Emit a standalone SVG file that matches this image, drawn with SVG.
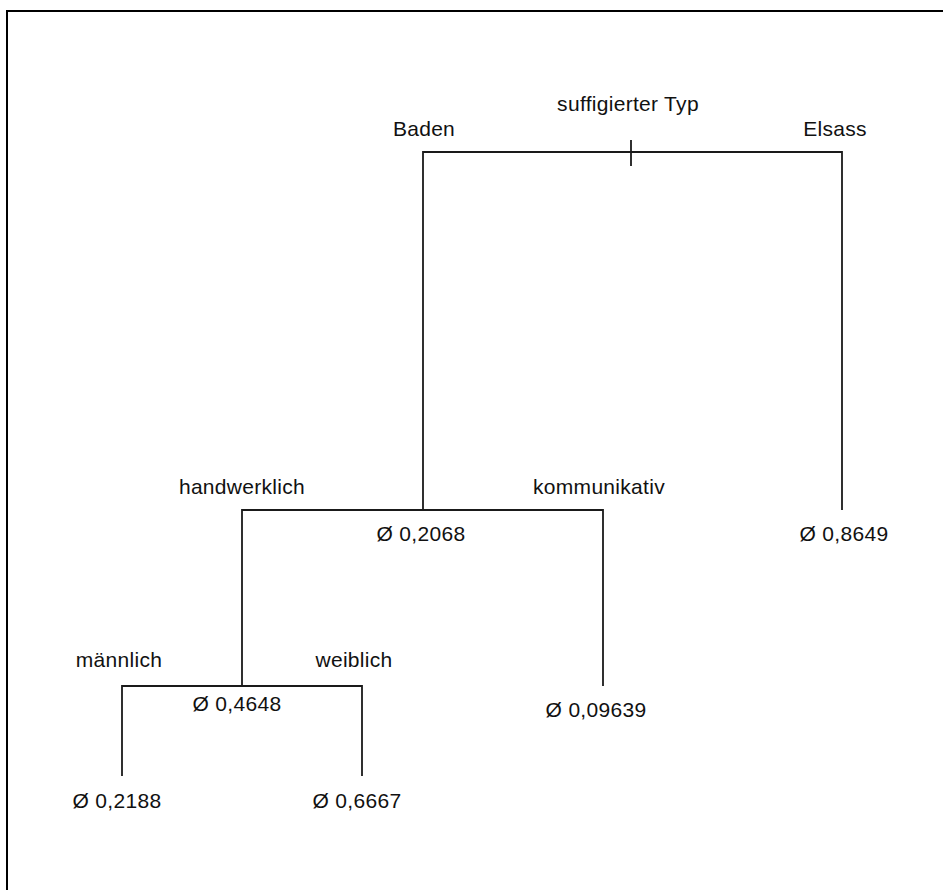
<svg xmlns="http://www.w3.org/2000/svg" width="943" height="890" viewBox="0 0 943 890">
<style>
text{font-family:"Liberation Sans",Arial,sans-serif;font-size:21px;letter-spacing:0.3px;fill:#111;text-anchor:middle}
.e{stroke:#1a1a1a;stroke-width:1.8;fill:none}
.frame{stroke:#000;stroke-width:2;fill:none}
</style>
<rect width="943" height="890" fill="#fff"/>
<path class="frame" d="M7,890 V11 H943"/>
<g id="connectors">
<path class="e" d="M423,510 V152 H842 V510"/>
<path class="e" d="M631,140 V166"/>
<path class="e" d="M242,686 V510 H603 V686"/>
<path class="e" d="M122,776 V686 H362 V776"/>
</g>
<g id="n-root"><text x="628" y="111">suffigierter Typ</text></g>
<g id="e-baden"><text x="424" y="136">Baden</text></g>
<g id="e-elsass"><text x="835" y="136">Elsass</text></g>
<g id="n-baden"><text x="421" y="541">Ø 0,2068</text></g>
<g id="n-elsass"><text x="844" y="541">Ø 0,8649</text></g>
<g id="e-hand"><text x="242" y="494">handwerklich</text></g>
<g id="e-komm"><text x="599" y="494">kommunikativ</text></g>
<g id="n-hand"><text x="237" y="711">Ø 0,4648</text></g>
<g id="n-komm"><text x="596" y="717">Ø 0,09639</text></g>
<g id="e-m"><text x="119" y="667">männlich</text></g>
<g id="e-w"><text x="354" y="667">weiblich</text></g>
<g id="n-m"><text x="117" y="808">Ø 0,2188</text></g>
<g id="n-w"><text x="357" y="808">Ø 0,6667</text></g>
</svg>
